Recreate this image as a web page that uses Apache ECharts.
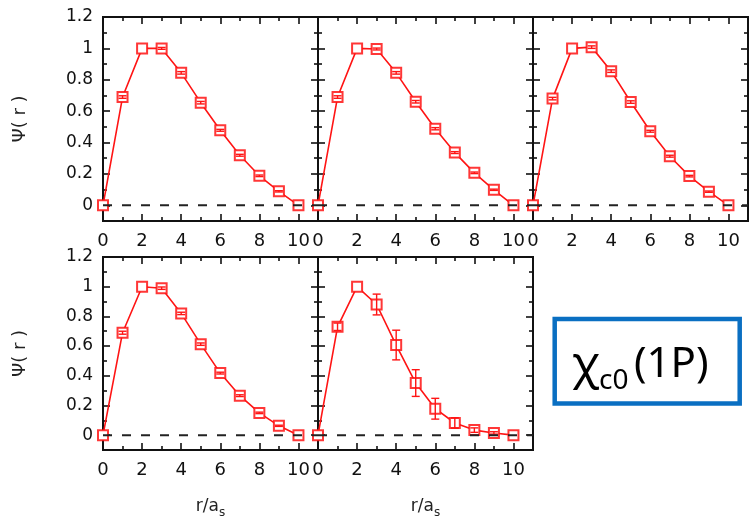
<!DOCTYPE html>
<html>
<head>
<meta charset="utf-8">
<script src="https://cdn.jsdelivr.net/npm/echarts@6/dist/echarts.min.js"></script>
<style>
  html, body { margin: 0; padding: 0; background: #fff; }
  #chart { width: 749px; height: 520px; }
</style>
</head>
<body>
<div id="chart"></div>
<script>
// Radial separation r/a_s sampled on the lattice
const radius = [0, 1, 2, 3, 4, 5, 6, 7, 8, 9, 10];

// Normalised wave function Ψ(r) for each source setting, with statistical errors
const psiA = [0, 0.690, 1.000, 1.000, 0.844, 0.654, 0.478, 0.319, 0.188, 0.089, 0];
const errA = [0, 0.008, 0.000, 0.006, 0.008, 0.008, 0.006, 0.006, 0.005, 0.004, 0];
const psiB = [0, 0.690, 1.000, 0.996, 0.844, 0.660, 0.488, 0.336, 0.207, 0.099, 0];
const errB = [0, 0.008, 0.000, 0.006, 0.008, 0.008, 0.007, 0.006, 0.005, 0.004, 0];
const psiC = [0, 0.680, 1.000, 1.008, 0.855, 0.658, 0.472, 0.313, 0.186, 0.087, 0];
const errC = [0, 0.008, 0.000, 0.008, 0.008, 0.008, 0.006, 0.006, 0.005, 0.004, 0];
const psiD = [0, 0.690, 1.000, 0.990, 0.820, 0.613, 0.418, 0.266, 0.150, 0.063, 0];
const errD = [0, 0.010, 0.000, 0.008, 0.008, 0.008, 0.006, 0.006, 0.005, 0.004, 0];
const psiE = [0, 0.730, 1.000, 0.880, 0.607, 0.351, 0.178, 0.082, 0.034, 0.015, 0];
const errE = [0, 0.025, 0.000, 0.070, 0.100, 0.090, 0.070, 0.035, 0.015, 0.008, 0];

// Tick positions
const xMajor = [0, 2, 4, 6, 8, 10];
const xMinor = [1, 3, 5, 7, 9];
const yMajor = [0, 0.2, 0.4, 0.6, 0.8, 1, 1.2];
const yMinor = [0.1, 0.3, 0.5, 0.7, 0.9, 1.1];

// Axis titles
const yTitle = 'Ψ( r )';
const xTitle = '{m|r/a}{s|s}';

const panels = [
  { left: 103, top: 17,  psi: psiA, err: errA, yLabels: true,  xName: false },
  { left: 318, top: 17,  psi: psiB, err: errB, yLabels: false, xName: false },
  { left: 533, top: 17,  psi: psiC, err: errC, yLabels: false, xName: false },
  { left: 103, top: 257, psi: psiD, err: errD, yLabels: true,  xName: true },
  { left: 318, top: 257, psi: psiE, err: errE, yLabels: false, xName: true }
];

const RED = '#ff1414';
const INK = '#111';
const X_RANGE = [0, 11];
const Y_RANGE = [-0.1, 1.2];

const grids = [], xAxes = [], yAxes = [], series = [];

function xAxisDef(g, pos, ticks, len, withLabels, withName) {
  const a = {
    type: 'value', gridIndex: g, position: pos, min: X_RANGE[0], max: X_RANGE[1],
    axisLine: { show: false, onZero: false },
    axisTick: { show: true, inside: true, length: len, customValues: ticks,
                lineStyle: { color: INK, width: 1.6 } },
    axisLabel: { show: withLabels, customValues: ticks, margin: 11,
                 fontFamily: 'DejaVu Sans', fontSize: 18, color: INK,
                 formatter: v => String(v) },
    splitLine: { show: false }
  };
  if (withName) {
    a.name = xTitle;
    a.nameLocation = 'middle';
    a.nameGap = 45;
    a.nameTextStyle = {
      color: INK, fontFamily: 'DejaVu Sans',
      rich: {
        m: { fontSize: 17, fontFamily: 'DejaVu Sans', color: '#222' },
        s: { fontSize: 12, fontFamily: 'DejaVu Sans', color: '#222',
             verticalAlign: 'bottom', padding: [12, 0, 0, 0] }
      }
    };
  }
  return a;
}

function yAxisDef(g, pos, ticks, len, withLabels, withName) {
  const a = {
    type: 'value', gridIndex: g, position: pos, min: Y_RANGE[0], max: Y_RANGE[1],
    axisLine: { show: false, onZero: false },
    axisTick: { show: true, inside: true, length: len, customValues: ticks,
                lineStyle: { color: INK, width: 1.6 } },
    axisLabel: { show: withLabels, customValues: ticks, margin: 10,
                 fontFamily: 'DejaVu Sans', fontSize: 17, color: INK,
                 formatter: v => String(Math.round(v * 10) / 10) },
    splitLine: { show: false }
  };
  if (withName) {
    a.name = yTitle;
    a.nameLocation = 'middle';
    a.nameRotate = 90;
    a.nameGap = 74;
    a.nameTextStyle = { color: '#222', fontFamily: 'DejaVu Sans', fontSize: 18 };
  }
  return a;
}

function errorBar(params, api) {
  const x = api.value(0), y = api.value(1), e = api.value(2);
  if (!e) return null;
  const hi = api.coord([x, y + e]);
  const lo = api.coord([x, y - e]);
  const half = 4;
  const style = { stroke: RED, lineWidth: 1.4 };
  return {
    type: 'group',
    children: [
      { type: 'line', shape: { x1: hi[0], y1: hi[1], x2: lo[0], y2: lo[1] }, style },
      { type: 'line', shape: { x1: hi[0] - half, y1: hi[1], x2: hi[0] + half, y2: hi[1] }, style },
      { type: 'line', shape: { x1: lo[0] - half, y1: lo[1], x2: lo[0] + half, y2: lo[1] }, style }
    ]
  };
}

panels.forEach((p, i) => {
  grids.push({
    left: p.left, top: p.top, width: 215, height: 204,
    show: true, borderColor: INK, borderWidth: 2, backgroundColor: 'transparent'
  });
  const xi = xAxes.length, yi = yAxes.length;
  xAxes.push(xAxisDef(i, 'bottom', xMajor, 7, true, p.xName));
  xAxes.push(xAxisDef(i, 'bottom', xMinor, 4, false, false));
  xAxes.push(xAxisDef(i, 'top', xMajor, 7, false, false));
  xAxes.push(xAxisDef(i, 'top', xMinor, 4, false, false));
  yAxes.push(yAxisDef(i, 'left', yMajor, 7, p.yLabels, p.yLabels));
  yAxes.push(yAxisDef(i, 'left', yMinor, 4, false, false));
  yAxes.push(yAxisDef(i, 'right', yMajor, 7, false, false));
  yAxes.push(yAxisDef(i, 'right', yMinor, 4, false, false));

  series.push({
    type: 'line', xAxisIndex: xi, yAxisIndex: yi,
    data: radius.map((r, k) => [r, p.psi[k]]),
    symbol: 'rect', symbolSize: 10, showAllSymbol: true,
    lineStyle: { color: RED, width: 1.6 },
    itemStyle: { color: '#fff', borderColor: 'rgba(255,20,20,0.85)', borderWidth: 2 },
    z: 3, silent: true, animation: false
  });
  series.push({
    type: 'custom', xAxisIndex: xi, yAxisIndex: yi,
    data: radius.map((r, k) => [r, p.psi[k], p.err[k]]),
    renderItem: errorBar, z: 4, silent: true, animation: false
  });
  // dashed reference line at Ψ = 0
  series.push({
    type: 'line', xAxisIndex: xi, yAxisIndex: yi,
    data: [[X_RANGE[0], 0], [X_RANGE[1], 0]],
    symbol: 'none',
    lineStyle: { color: '#222', width: 2, type: [9, 10] },
    z: 5, silent: true, animation: false
  });
});

const chart = echarts.init(document.getElementById('chart'), null, { renderer: 'canvas' });
chart.setOption({
  backgroundColor: '#fff',
  animation: false,
  grid: grids,
  xAxis: xAxes,
  yAxis: yAxes,
  series: series,
  graphic: [
    {
      type: 'rect', z: 10,
      shape: { x: 554.7, y: 319, width: 185, height: 84.5 },
      style: { fill: '#fff', stroke: '#0a6fc2', lineWidth: 4.5 }
    },
    {
      type: 'text', z: 11, x: 572, y: 366,
      style: { text: 'χ', fontFamily: 'Noto Sans', fontSize: 46, fill: '#000',
               align: 'left', verticalAlign: 'middle' }
    },
    {
      type: 'text', z: 11, x: 599, y: 381,
      style: { text: 'c0', fontFamily: 'Noto Sans', fontSize: 28, fill: '#000',
               align: 'left', verticalAlign: 'middle' }
    },
    {
      type: 'text', z: 11, x: 634, y: 365,
      style: { text: '(1P)', fontFamily: 'Noto Sans', fontSize: 42, fill: '#000',
               align: 'left', verticalAlign: 'middle' }
    }
  ]
});
</script>
</body>
</html>
